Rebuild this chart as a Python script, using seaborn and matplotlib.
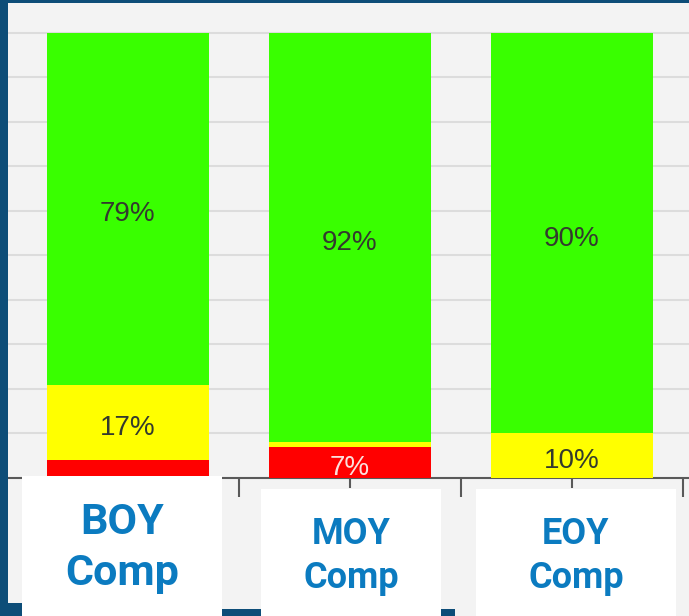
import numpy as np
import seaborn as sns
import matplotlib.pyplot as plt
from matplotlib.patches import Rectangle

categories = ['BOY Comp', 'MOY Comp', 'EOY Comp']
green_pct = [79, 92, 90]
yellow_pct = [17, 1, 10]
red_pct = [4, 7, 0]

GREEN = '#39ff00'
YELLOW = '#ffff00'
RED = '#ff0000'
NAVY = '#0d4d78'
BG = '#f3f3f3'
LABEL_BLUE = '#0b7bc0'

sns.set_style('white')
plt.rcParams['font.family'] = ['Liberation Sans Narrow', 'Liberation Sans', 'DejaVu Sans']

W, H = 689, 616
fig = plt.figure(figsize=(W / 100, H / 100), dpi=100, facecolor=BG)
ax = fig.add_axes([8 / W, (H - 478) / H, 1 - 8 / W, (478 - 3) / H])
ax.set_facecolor(BG)

green = np.array(green_pct)
yellow = np.array(yellow_pct)
red = np.array(red_pct)
total = green + yellow + red

# stacked look: draw cumulative totals on top of each other
sns.barplot(x=categories, y=total, color=GREEN, width=0.73, saturation=1, linewidth=0, ax=ax, zorder=3)
sns.barplot(x=categories, y=yellow + red, color=YELLOW, width=0.73, saturation=1, linewidth=0, ax=ax, zorder=3)
sns.barplot(x=categories, y=red, color=RED, width=0.73, saturation=1, linewidth=0, ax=ax, zorder=3)

ax.set_xlim(-0.54, 2.527)
ax.set_ylim(0, 106.7)
ax.set_yticks(np.arange(10, 101, 10))
ax.yaxis.grid(True, color='#dcdcdc', linewidth=1.5, zorder=0)
ax.set_axisbelow(True)
ax.tick_params(axis='y', left=False, labelleft=False)

ax.set_xticks([0.5, 1.5, 2.5])
ax.set_xticks([0, 1, 2], minor=True)
ax.set_xticklabels([])
ax.tick_params(axis='x', which='major', direction='out', length=14, width=1.5, color='#595959', bottom=True)
ax.tick_params(axis='x', which='minor', direction='out', length=7, width=1.5, color='#595959', bottom=True)
ax.set_xlabel('')
ax.set_ylabel('')
for s in ['top', 'left', 'right']:
    ax.spines[s].set_visible(False)
ax.spines['bottom'].set_color('#595959')
ax.spines['bottom'].set_linewidth(1.5)

# percentage labels, centred in each segment
for i in range(len(categories)):
    segs = [(red[i], 0, RED), (yellow[i], red[i], YELLOW), (green[i], red[i] + yellow[i], GREEN)]
    for val, base, col in segs:
        if val < 5:
            continue
        tc = '#fbe0dc' if col == RED else '#333a2e'
        ax.text(i, base + val / 2 - 0.6, f'{val}%', ha='center', va='center_baseline',
                fontsize=20, color=tc, zorder=5)

# navy frame pieces
def px_rect(x0, y0, x1, y1, color, z=1):
    fig.patches.append(Rectangle((x0 / W, 1 - y1 / H), (x1 - x0) / W, (y1 - y0) / H,
                                 transform=fig.transFigure, facecolor=color,
                                 edgecolor='none', zorder=z))

px_rect(0, 0, W, 3, NAVY, 10)
px_rect(0, 0, 8, H, NAVY, 10)
px_rect(0, 603, 22, H, NAVY, 10)
px_rect(0, 609, 455, H, NAVY, 10)

# white label boxes under the axis
boxes = [(22, 476, 222, H), (261, 489, 441, H), (476, 489, 676, H)]
for b in boxes:
    px_rect(*b, 'white', 11)

label_pos = [(122, 548, 31), (351, 556, 26), (576, 556, 26)]
for name, (cx, cy, fs) in zip(categories, label_pos):
    fig.text(cx / W, 1 - cy / H, name.replace(' ', '\n'), ha='center', va='center',
             fontsize=fs, fontweight='bold', color=LABEL_BLUE, family='Roboto',
             linespacing=1.32, zorder=12)

fig.savefig('out.png', dpi=100, facecolor=BG)
